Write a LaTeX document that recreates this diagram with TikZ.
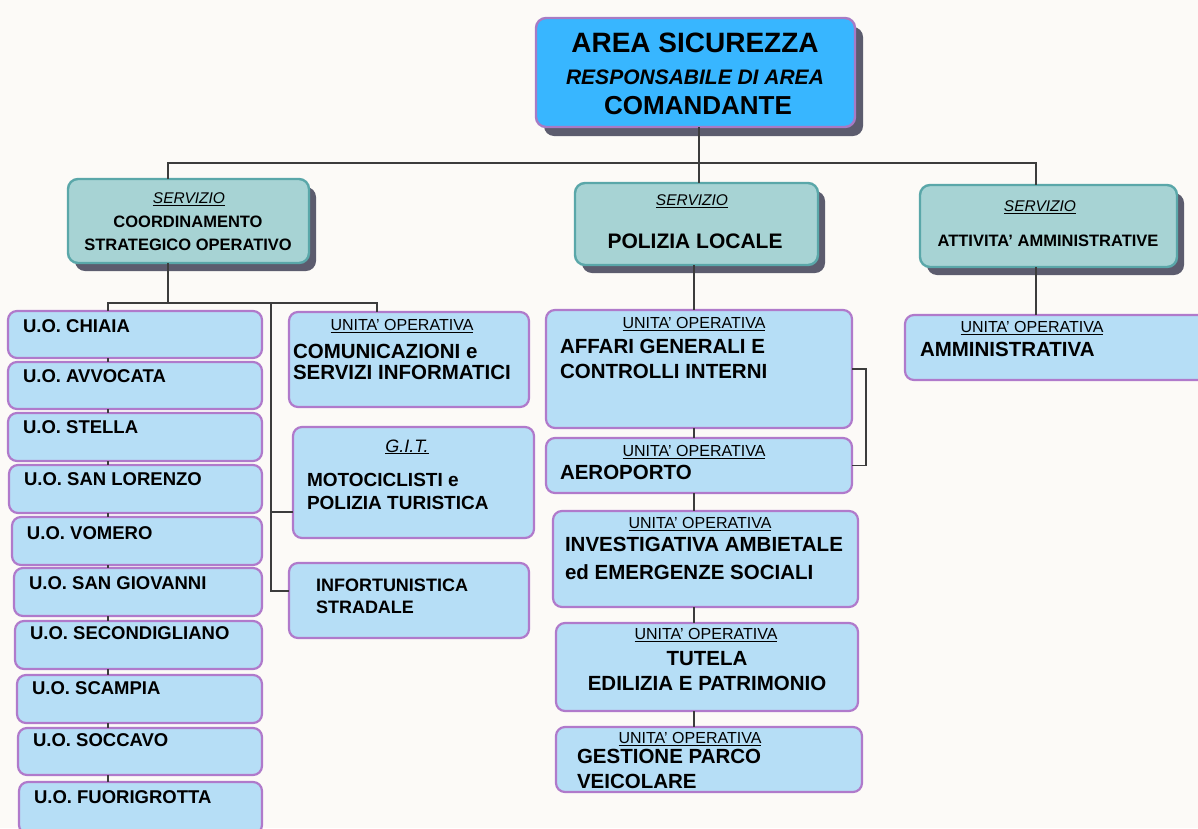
\documentclass[tikz,border=0pt]{standalone}
\usepackage{fontspec}
\setmainfont{Liberation Sans}
\usetikzlibrary{shadows}

\definecolor{bgcol}{HTML}{FCFAF7}
\definecolor{topfill}{HTML}{38B6FF}
\definecolor{topline}{HTML}{A77BC5}
\definecolor{servfill}{HTML}{A7D3D4}
\definecolor{servline}{HTML}{5AA7A9}
\definecolor{unitfill}{HTML}{B6DEF6}
\definecolor{unitline}{HTML}{B07ACB}
\definecolor{shadowcol}{HTML}{5C5C6E}
\definecolor{linecol}{HTML}{3C3C3C}

\newcommand{\fs}[2]{\fontsize{#1}{#2}\selectfont}

\tikzset{
  topbox/.style={draw=topline, fill=topfill, line width=2.4pt, rounded corners=10pt,
    drop shadow={shadow xshift=8pt, shadow yshift=-9pt, opacity=1, fill=shadowcol}},
  servbox/.style={draw=servline, fill=servfill, line width=2.4pt, rounded corners=10pt,
    drop shadow={shadow xshift=7pt, shadow yshift=-8pt, opacity=1, fill=shadowcol}},
  unitbox/.style={draw=unitline, fill=unitfill, line width=2.2pt, rounded corners=9pt},
  conn/.style={draw=linecol, line width=1.2pt},
  servhead/.style={font=\fs{15.5}{18}\itshape, anchor=north},
  uohead/.style={font=\fs{16}{19}, anchor=north},
  uoname/.style={font=\fs{18.5}{22}\bfseries, anchor=north west},
  unitmain/.style={font=\fs{20.5}{25}\bfseries, anchor=north west, align=left}
}

\begin{document}
\begin{tikzpicture}[x=1pt, y=-1pt, every node/.style={inner sep=0pt, outer sep=0pt}]
\fill[bgcol] (0,0) rectangle (1198,828);
\useasboundingbox (0,0) rectangle (1198,828);

% vertice
\node[topbox, anchor=north west, minimum width=319, minimum height=109] (area) at (536,18) {};
\node[font=\fs{28}{32}\bfseries, anchor=north] (areaT1) at (695,33) {AREA SICUREZZA};
\node[font=\fs{21}{24}\bfseries\itshape, anchor=north] (areaT2) at (695,69.4) {RESPONSABILE DI AREA};
\node[font=\fs{26}{30}\bfseries, anchor=north] (areaT3) at (698,96.6) {COMANDANTE};

% servizi
\node[servbox, anchor=north west, minimum width=241, minimum height=84] (servCoord) at (68,179) {};
\node[servhead] (servCoordH) at (189,192.4) {\underline{SERVIZIO}};
\node[font=\fs{16.5}{23}\bfseries, anchor=north, align=center] (servCoordT) at (188,216) {COORDINAMENTO\\STRATEGICO OPERATIVO};

\node[servbox, anchor=north west, minimum width=243, minimum height=82] (servPol) at (575,183) {};
\node[servhead] (servPolH) at (692,194.4) {\underline{SERVIZIO}};
\node[font=\fs{21}{24}\bfseries, anchor=north] (servPolT) at (695,233.4) {POLIZIA LOCALE};

\node[servbox, anchor=north west, minimum width=257, minimum height=82] (servAtt) at (920,185) {};
\node[servhead] (servAttH) at (1040,200.4) {\underline{SERVIZIO}};
\node[font=\fs{16.5}{20}\bfseries, anchor=north] (servAttT) at (1048,235) {ATTIVITA’ AMMINISTRATIVE};

% unita' operative territoriali
\foreach \n/\xl/\yt/\yb/\ty/\lab in {1/8/311/358/326/CHIAIA, 2/8/362/409/376/AVVOCATA,
    3/8/413/461/427/STELLA, 4/9/465/513/479/SAN LORENZO, 5/12/517/565/533/VOMERO,
    6/14/568/616/583/SAN GIOVANNI, 7/15/621/669/633/SECONDIGLIANO, 8/17/675/723/688/SCAMPIA,
    9/18/728/775/740/SOCCAVO, 10/19/782/834/797/FUORIGROTTA}{
  \node[unitbox, anchor=north west, minimum width={262-\xl}, minimum height={\yb-\yt}] (uo\n) at (\xl,\yt) {};
  \node[uoname] (uo\n T) at (\xl+15,\ty-6.7) {U.O. \lab};
}

\node[unitbox, anchor=north west, minimum width=240, minimum height=95] (comunic) at (289,312) {};
\node[uohead] (comunicH) at (402,319.2) {\underline{UNITA’ OPERATIVA}};
\node[unitmain, font=\fs{20.5}{21}\bfseries] (comunicT) at (293,344.6) {COMUNICAZIONI e\\SERVIZI INFORMATICI};

\node[unitbox, anchor=north west, minimum width=241, minimum height=111] (git) at (293,427) {};
\node[font=\fs{18}{21}\itshape, anchor=north] (gitH) at (407,439.5) {\underline{G.I.T.}};
\node[unitmain, font=\fs{19}{23}\bfseries] (gitT) at (307,473.2) {MOTOCICLISTI e\\POLIZIA TURISTICA};

\node[unitbox, anchor=north west, minimum width=240, minimum height=75] (infort) at (289,563) {};
\node[unitmain, font=\fs{18}{22}\bfseries] (infortT) at (316,578.5) {INFORTUNISTICA\\STRADALE};

% polizia locale
\node[unitbox, anchor=north west, minimum width=306, minimum height=118] (affari) at (546,310) {};
\node[uohead] (affariH) at (694,317.2) {\underline{UNITA’ OPERATIVA}};
\node[unitmain] (affariT) at (560,339.6) {AFFARI GENERALI E\\CONTROLLI INTERNI};

\node[unitbox, anchor=north west, minimum width=306, minimum height=55] (aero) at (546,438) {};
\node[uohead] (aeroH) at (694,445.2) {\underline{UNITA’ OPERATIVA}};
\node[unitmain] (aeroT) at (560,465.6) {AEROPORTO};

\node[unitbox, anchor=north west, minimum width=305, minimum height=96] (invest) at (553,511) {};
\node[uohead] (investH) at (700,517.2) {\underline{UNITA’ OPERATIVA}};
\node[unitmain, font=\fs{20.5}{28}\bfseries] (investT) at (565,537.6) {INVESTIGATIVA AMBIETALE\\ed EMERGENZE SOCIALI};

\node[unitbox, anchor=north west, minimum width=302, minimum height=88] (tutela) at (556,623) {};
\node[uohead] (tutelaH) at (706,628.2) {\underline{UNITA’ OPERATIVA}};
\node[unitmain, align=center, anchor=north] (tutelaT) at (707,651.6) {TUTELA\\EDILIZIA E PATRIMONIO};

\node[unitbox, anchor=north west, minimum width=306, minimum height=65] (gestione) at (556,727) {};
\node[uohead] (gestioneH) at (690,732.2) {\underline{UNITA’ OPERATIVA}};
\node[unitmain] (gestioneT) at (577,749.6) {GESTIONE PARCO\\VEICOLARE};

% attivita' amministrative
\node[unitbox, anchor=north west, minimum width=310, minimum height=65] (ammin) at (905,315) {};
\node[uohead] (amminH) at (1032,321.2) {\underline{UNITA’ OPERATIVA}};
\node[unitmain] (amminT) at (920,342.6) {AMMINISTRATIVA};

% collegamenti
\coordinate (busL) at (168,163);
\coordinate (busC) at (699,163);
\coordinate (busR) at (1036,163);
\coordinate (forkL) at (108,303);
\coordinate (forkM) at (271,303);
\coordinate (forkR) at (377,303);
\coordinate (spineP) at (694,300);

\draw[conn] (busC |- area.south) -- (busC);
\draw[conn] (busL |- servCoord.north) -- (busL) -- (busR) -- (busR |- servAtt.north);
\draw[conn] (busC) -- (busC |- servPol.north);

\draw[conn] (busL |- servCoord.south) -- (busL |- forkL);
\draw[conn] (forkL |- uo1.north) -- (forkL) -- (forkR) -- (forkR |- comunic.north);
\draw[conn] (forkM) |- ([yshift=9.5pt]infort.west);
\draw[conn] ([yshift=-29.5pt]git.west) -- ++(-22,0);
\foreach \a/\b in {1/2,2/3,3/4,4/5,5/6,6/7,7/8,8/9,9/10}
  \draw[conn] (forkL |- uo\a.south) -- (forkL |- uo\b.north);

\draw[conn] (spineP |- servPol.south) -- (spineP |- affari.north);
\foreach \a/\b in {affari/aero, aero/invest, invest/tutela, tutela/gestione}
  \draw[conn] (spineP |- \a.south) -- (spineP |- \b.north);
\draw[conn] (affari.east) -- ++(14,0) |- (aero.east);

\draw[conn] (busR |- servAtt.south) -- (busR |- ammin.north);
\end{tikzpicture}
\end{document}
